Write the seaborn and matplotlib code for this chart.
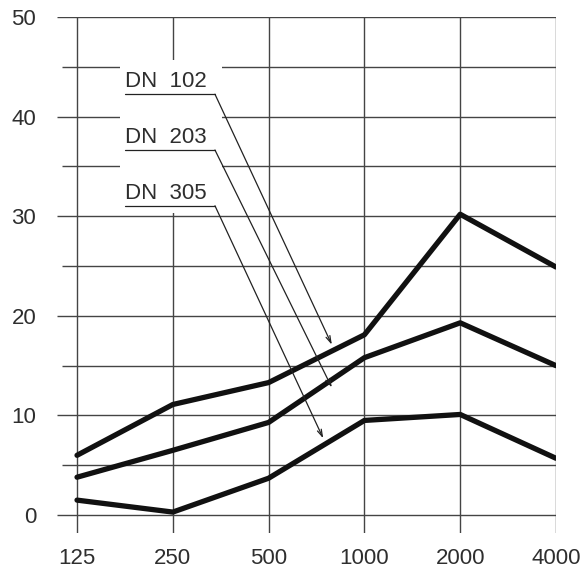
import matplotlib
matplotlib.use("Agg")
import matplotlib.pyplot as plt
import seaborn as sns
import pandas as pd
from matplotlib.patches import Rectangle

# frequency bands (Hz) and the three curves
freqs = ["125", "250", "500", "1000", "2000", "4000"]
dn102 = [6.0, 11.1, 13.3, 18.1, 30.2, 24.9]
dn203 = [3.8, 6.5, 9.3, 15.8, 19.3, 15.0]
dn305 = [1.5, 0.3, 3.7, 9.5, 10.1, 5.7]
labels = ["DN  102", "DN  203", "DN  305"]

# label text position (y) and the point the leader arrow touches
label_y = [43.5, 37.9, 32.3]
arrow_tips = [(2.66, 17.1), (2.66, 12.8), (2.57, 7.7)]

sns.set_style("white")
plt.rcParams["font.family"] = ["Liberation Sans", "DejaVu Sans"]

df = pd.DataFrame({
    "x": list(range(len(freqs))) * 3,
    "y": dn102 + dn203 + dn305,
    "curve": [labels[0]] * 6 + [labels[1]] * 6 + [labels[2]] * 6,
})

fig = plt.figure(figsize=(5.82, 5.68), dpi=100)
ax = fig.add_axes([57 / 582, 1 - 533 / 568, (556 - 57) / 582, (533 - 17) / 568])

x_left, x_right = -0.209, 5.0
ax.set_xlim(x_left, x_right)
ax.set_ylim(-1.8, 50)

grid_c = "#444444"
# grid drawn by hand: major rows from the left edge, minor rows slightly in
for v in range(0, 51, 10):
    ax.hlines(v, x_left, 5.0, color=grid_c, lw=1.0, zorder=1)
for v in range(5, 50, 10):
    ax.hlines(v, -0.16, 5.0, color=grid_c, lw=1.0, zorder=1)
for i in range(len(freqs)):
    ax.vlines(i, -1.8, 50, color=grid_c, lw=1.0, zorder=1)

# white box behind the labels breaks the grid
ax.add_patch(Rectangle((0.45, 30.3), 1.06, 15.4, facecolor="white",
                       edgecolor="none", zorder=2))

sns.lineplot(data=df, x="x", y="y", units="curve", estimator=None,
             color="#111111", lw=3.8, ax=ax, zorder=4, legend=False)

text_c = "#2e2e2e"
for lab, ly, tip in zip(labels, label_y, arrow_tips):
    ax.text(0.5, ly, lab, fontsize=16, color=text_c, va="center",
            ha="left", zorder=5)
    uy = ly - 1.25
    ax.plot([0.5, 1.44], [uy, uy], color="#222222", lw=0.9, zorder=5)
    ax.annotate("", xy=tip, xytext=(1.44, uy),
                arrowprops=dict(arrowstyle="->,head_length=0.5,head_width=0.15",
                                color="#222222", lw=0.9, shrinkA=0, shrinkB=0),
                zorder=5)

ax.set_xticks(range(len(freqs)))
ax.set_xticklabels(freqs)
ax.set_yticks(range(0, 51, 10))
ax.tick_params(axis="x", length=0, pad=11, labelsize=16, labelcolor=text_c)
ax.tick_params(axis="y", length=0, pad=15, labelsize=16, labelcolor=text_c)
ax.set_xlabel("")
ax.set_ylabel("")
for s in ax.spines.values():
    s.set_visible(False)

fig.savefig("out.png", dpi=100)
